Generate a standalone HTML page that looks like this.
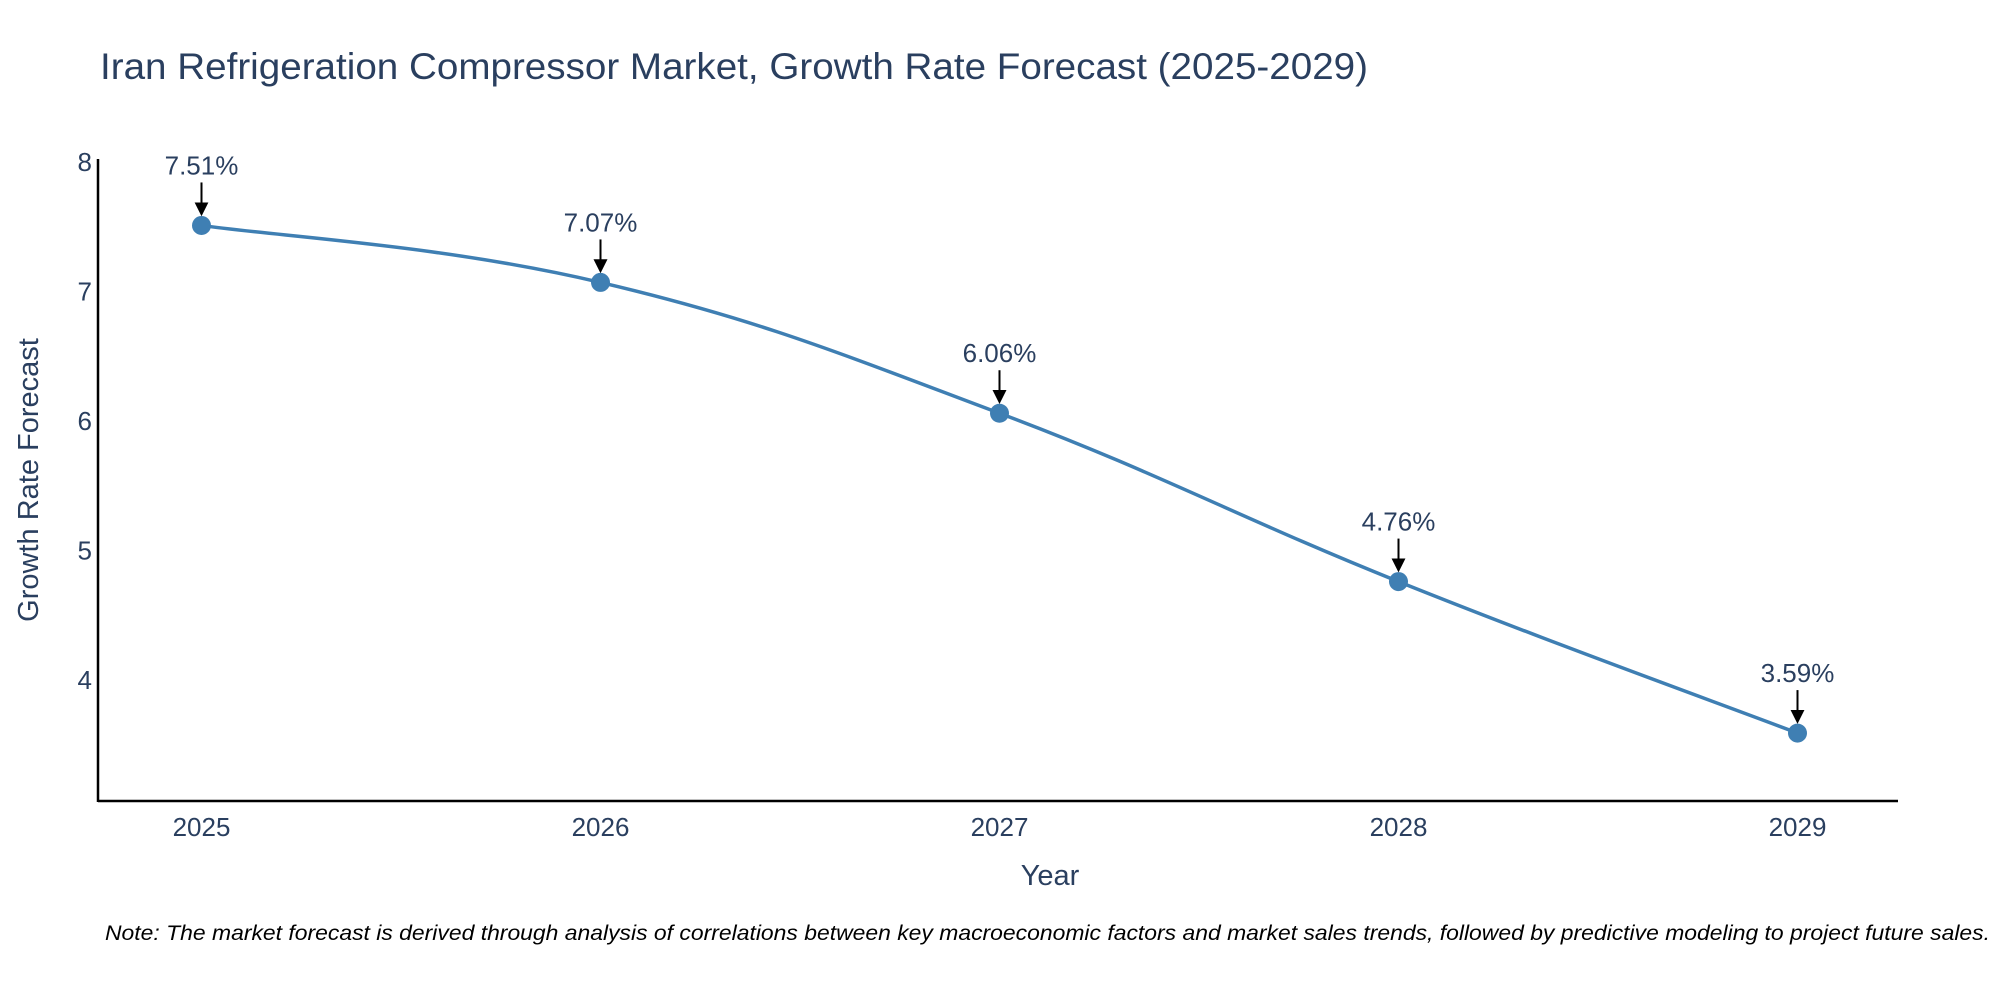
<!DOCTYPE html>
<html><head><meta charset="utf-8"><style>
html,body{margin:0;padding:0;background:#fff;}
svg{display:block;font-family:"Liberation Sans",sans-serif;}
</style></head><body>
<svg id="chart" width="2000" height="1000" viewBox="0 0 2000 1000">
<defs><marker id="ah" viewBox="0 0 10 10" refX="8" refY="5" markerWidth="7" markerHeight="7" markerUnits="strokeWidth" orient="auto"><path d="M0,0 L10,5 L0,10 z" fill="#000"/></marker></defs>
<text x="100" y="79" font-size="37" fill="#2a3f5f" textLength="1268" lengthAdjust="spacingAndGlyphs">Iran Refrigeration Compressor Market, Growth Rate Forecast (2025-2029)</text>
<g id="axes"></g>
<g id="series"></g>
<text x="1050" y="885" font-size="29" fill="#2a3f5f" text-anchor="middle">Year</text>
<text transform="translate(38,480) rotate(-90)" font-size="29" fill="#2a3f5f" text-anchor="middle">Growth Rate Forecast</text>
<text x="105" y="940" font-size="21" font-style="italic" fill="#000" textLength="1885" lengthAdjust="spacingAndGlyphs">Note: The market forecast is derived through analysis of correlations between key macroeconomic factors and market sales trends, followed by predictive modeling to project future sales.</text>
</svg>
<script>
const years = ["2025","2026","2027","2028","2029"];
const values = [7.51, 7.07, 6.06, 4.76, 3.59];
const yTicks = [4,5,6,7,8];
const ns="http://www.w3.org/2000/svg";
const X0=201.5, XS=399, Y8=162, YS=129.5;
function xPos(i){return X0+i*XS;}
function yPos(v){return Y8+(8-v)*YS;}
function mk(t,a,p){const e=document.createElementNS(ns,t);for(const k in a)e.setAttribute(k,a[k]);p.appendChild(e);return e;}
const axes=document.getElementById('axes'), ser=document.getElementById('series');
const xl=mk('line',{x1:98,y1:801,x2:1898,y2:801,stroke:'#000','stroke-width':2.5},axes);


const yl=mk('line',{x1:98,y1:159,x2:98,y2:802,stroke:'#000','stroke-width':2.5},axes);


yTicks.forEach(v=>{const t=mk('text',{x:92,y:yPos(v)+9,'font-size':26,fill:'#2a3f5f','text-anchor':'end'},axes);t.textContent=v;

});
years.forEach((y,i)=>{const t=mk('text',{x:xPos(i),y:836,'font-size':26,fill:'#2a3f5f','text-anchor':'middle'},axes);t.textContent=y;

});
const pts=values.map((v,i)=>[xPos(i),yPos(v)]);
let d=`M${pts[0][0]},${pts[0][1]}`;
for(let i=0;i<pts.length-1;i++){const p0=pts[Math.max(0,i-1)],p1=pts[i],p2=pts[i+1],p3=pts[Math.min(pts.length-1,i+2)];const k=0.2;
d+=` C${p1[0]+(p2[0]-p0[0])*k},${p1[1]+(p2[1]-p0[1])*k} ${p2[0]-(p3[0]-p1[0])*k},${p2[1]-(p3[1]-p1[1])*k} ${p2[0]},${p2[1]}`;}
const line=mk('path',{d:d,fill:'none',stroke:'#3f7fb3','stroke-width':3.5},ser);


pts.forEach((p,i)=>{const c=mk('circle',{cx:p[0],cy:p[1],r:9.5,fill:'#3f7fb3'},ser);


const a=mk('line',{x1:p[0],y1:p[1]-43,x2:p[0],y2:p[1]-12,stroke:'#000','stroke-width':2,'marker-end':'url(#ah)'},ser);


const t=mk('text',{x:p[0],y:p[1]-51,'font-size':26,fill:'#2a3f5f','text-anchor':'middle'},ser);t.textContent=values[i].toFixed(2)+'%';

});
</script>
</body></html>
